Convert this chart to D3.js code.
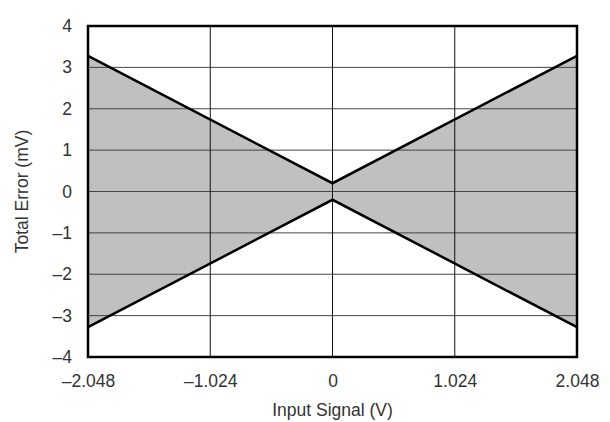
<!DOCTYPE html>
<html lang="en">
<head>
<meta charset="UTF-8">
<title>Total Error vs Input Signal</title>
<script src="https://d3js.org/d3.v7.min.js"></script>
<style>
  body { margin: 0; background: #fff; }
  text { font-family: "Liberation Sans", Arial, sans-serif; fill: #333; }
</style>
</head>
<body>
<script>
// data
var inputV = [-2.048, 0, 2.048];
var upperErr = [3.28, 0.2, 3.28];
var lowerErr = [-3.28, -0.2, -3.28];
var xTicks = [-2.048, -1.024, 0, 1.024, 2.048];
var yTicks = [-4, -3, -2, -1, 0, 1, 2, 3, 4];

var W = 610, H = 422;
var margin = {top: 26, right: 33, bottom: 65, left: 88};
var width = W - margin.left - margin.right,
    height = H - margin.top - margin.bottom;

var svg = d3.select("body").append("svg")
    .attr("width", W)
    .attr("height", H);

var g = svg.append("g")
    .attr("transform", "translate(" + margin.left + "," + margin.top + ")");

var x = d3.scaleLinear().domain([-2.048, 2.048]).range([0, width]);
var y = d3.scaleLinear().domain([-4, 4]).range([height, 0]);

var pts = inputV.map(function(v, i) {
    return {x: v, hi: upperErr[i], lo: lowerErr[i]};
});

// shaded band
var area = d3.area()
    .x(function(d) { return x(d.x); })
    .y0(function(d) { return y(d.lo); })
    .y1(function(d) { return y(d.hi); });

g.append("path")
    .datum(pts)
    .attr("d", area)
    .attr("fill", "#c0c0c0");

// grid
g.selectAll(".hgrid").data(yTicks).enter().append("line")
    .attr("x1", 0).attr("x2", width)
    .attr("y1", function(d) { return y(d); })
    .attr("y2", function(d) { return y(d); })
    .attr("stroke", "#444").attr("stroke-width", 1);

g.selectAll(".vgrid").data(xTicks).enter().append("line")
    .attr("y1", 0).attr("y2", height)
    .attr("x1", function(d) { return x(d); })
    .attr("x2", function(d) { return x(d); })
    .attr("stroke", "#111").attr("stroke-width", 1);

// boundary lines
var lineHi = d3.line().x(function(d) { return x(d.x); }).y(function(d) { return y(d.hi); });
var lineLo = d3.line().x(function(d) { return x(d.x); }).y(function(d) { return y(d.lo); });

g.append("path").datum(pts).attr("d", lineHi)
    .attr("fill", "none").attr("stroke", "#000").attr("stroke-width", 2.5);
g.append("path").datum(pts).attr("d", lineLo)
    .attr("fill", "none").attr("stroke", "#000").attr("stroke-width", 2.5);

// frame
g.append("rect")
    .attr("width", width).attr("height", height)
    .attr("fill", "none").attr("stroke", "#000").attr("stroke-width", 2.5);

function fmt(d) {
    var s = d === 0 ? "0" : (Number.isInteger(d) ? String(Math.abs(d)) : Math.abs(d).toFixed(3));
    return d < 0 ? "\u2013" + s : s;
}

// axes (labels only)
var xAxis = d3.axisBottom(x).tickValues(xTicks).tickSize(0).tickPadding(18).tickFormat(fmt);
var yAxis = d3.axisLeft(y).tickValues(yTicks).tickSize(0).tickPadding(16).tickFormat(fmt);

var gx = g.append("g").attr("transform", "translate(0," + height + ")").call(xAxis);
var gy = g.append("g").call(yAxis);
[gx, gy].forEach(function(a) {
    a.select(".domain").remove();
    a.selectAll("text").style("font-size", "17.5px").attr("fill", "#333")
        .style("font-family", "'Liberation Sans', Arial, sans-serif");
});

svg.append("text")
    .attr("x", margin.left + width / 2).attr("y", 416)
    .attr("text-anchor", "middle").style("font-size", "17.5px")
    .text("Input Signal (V)");

svg.append("text")
    .attr("transform", "translate(28," + (margin.top + height / 2) + ") rotate(-90)")
    .attr("text-anchor", "middle").style("font-size", "17.5px")
    .text("Total Error (mV)");
</script>
</body>
</html>
